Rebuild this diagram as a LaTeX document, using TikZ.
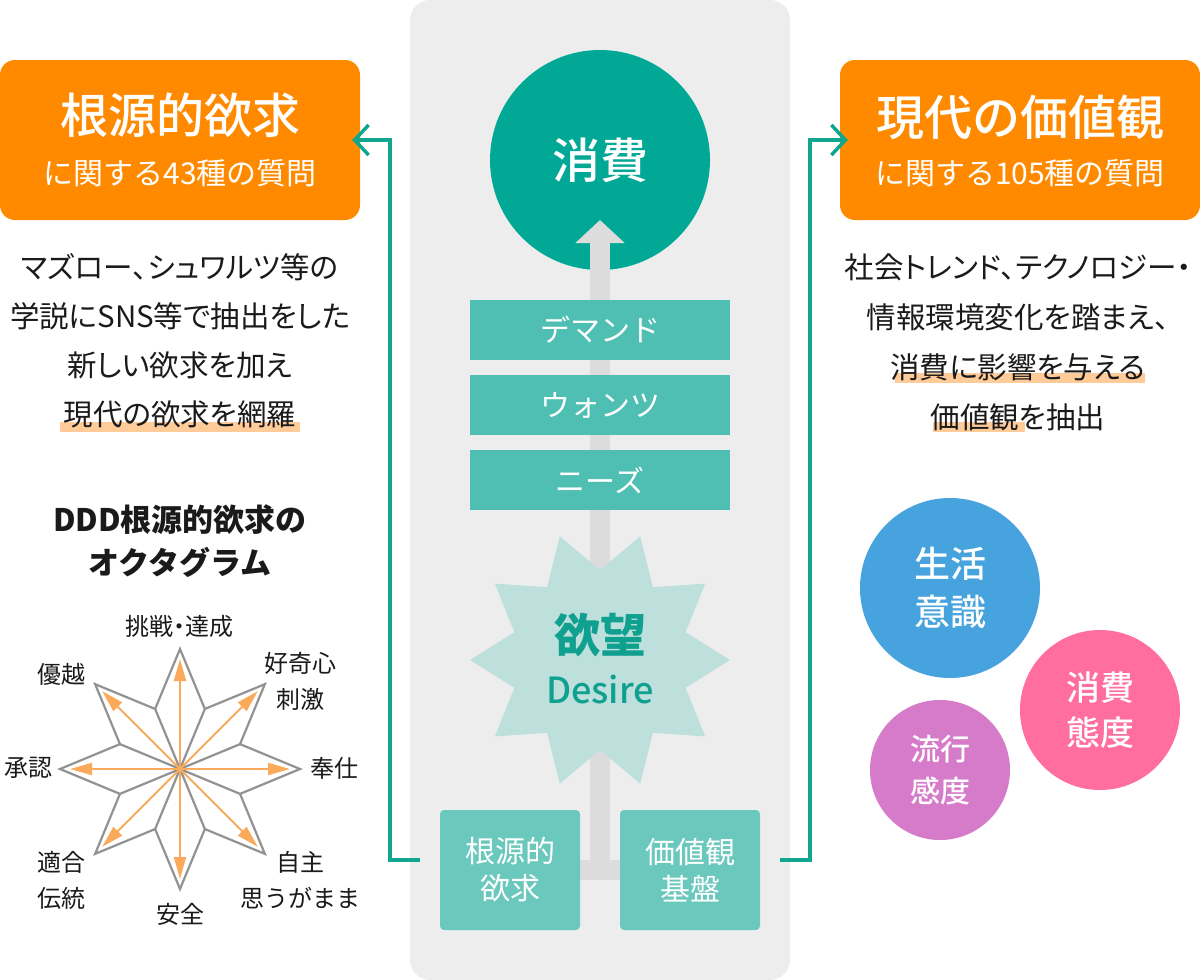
\documentclass[tikz,border=0pt]{standalone}
\usepackage{fontspec}
\setmainfont{Noto Sans CJK JP}
\newfontfamily\jpp{Noto Sans CJK JP}[RawFeature=+palt]
\newfontfamily\jpm{Noto Sans CJK JP Medium}
\usetikzlibrary{arrows.meta,calc}
\definecolor{panelc}{HTML}{EDEDED}
\definecolor{barc}{HTML}{DCDCDC}
\definecolor{tealc}{HTML}{02A896}
\definecolor{rectc}{HTML}{50BFB3}
\definecolor{basec}{HTML}{6BC8BD}
\definecolor{starc}{HTML}{BDE0DC}
\definecolor{startxt}{HTML}{0FA08F}
\definecolor{connc}{HTML}{10A690}
\definecolor{orangec}{HTML}{FF8A00}
\definecolor{hlc}{HTML}{FFCB98}
\definecolor{octc}{HTML}{929292}
\definecolor{oarrc}{HTML}{FBAA5C}
\definecolor{bluec}{HTML}{46A3DE}
\definecolor{pinkc}{HTML}{FF6E9E}
\definecolor{purpc}{HTML}{D67BC9}
\definecolor{txtc}{HTML}{1A1A1A}
\newcommand\fz[2]{\fontsize{#1}{#2}\selectfont}
\begin{document}
\begin{tikzpicture}[x=1pt,y=-1pt,
  lbl/.style={inner sep=0pt, text=txtc},
  obox/.style={rectangle, rounded corners=15pt, fill=orangec, minimum width=360pt, minimum height=160pt, inner sep=0pt},
  otitle/.style={inner sep=0pt, text=white, font=\jpm\fz{48pt}{56pt}},
  osub/.style={inner sep=0pt, text=white, font=\fz{30pt}{36pt}},
  dbox/.style={rectangle, fill=rectc, minimum width=260pt, minimum height=60pt, inner sep=0pt, text=white, font=\fz{30pt}{36pt}},
  bbox/.style={rectangle, rounded corners=4pt, fill=basec, minimum width=140pt, minimum height=120pt, inner sep=0pt, text=white, align=center, font=\fz{30pt}{37pt}},
  conn/.style={draw=connc, line width=3.5pt, -{Straight Barb[length=14pt,width=30pt]}},
  octlbl/.style={inner sep=0pt, text=txtc, font=\fz{24pt}{36pt}, align=center},
  oarr/.style={draw=oarrc, line width=2pt, -{Triangle[length=22pt,width=12pt]}},
  bub/.style={circle, inner sep=0pt, text=white, align=center},
  hl/.style={fill=hlc},
]
\useasboundingbox (0,0) rectangle (1200,980);
% central panel
\fill[panelc, rounded corners=20pt] (410,0) rectangle (790,980);
% consumption circle
\node[bub, fill=tealc, minimum size=220pt, font=\jpm\fz{48pt}{56pt}] (cons) at (600,160) {消費};
% grey bar
\coordinate (bartop) at (600,220);
\coordinate (barbot) at (600,880);
\coordinate (hbl) at (580,870);
\coordinate (hbr) at (620,870);
\draw[barc, line width=20pt, -{Triangle[length=23pt,width=48pt]}] (barbot) -- (bartop);
\draw[barc, line width=20pt] (hbl) -- (hbr);
% stacked boxes
\node[dbox] (dem) at (600,330) {デマンド};
\node[dbox] (wan) at (600,405) {ウォンツ};
\node[dbox] (nee) at (600,480) {ニーズ};
% desire star
\fill[starc, shift={(600,660)}] (0:130) \foreach \i in {1,...,19}{ -- ({\i*18}:{90+40*mod(\i+1,2)}) } -- cycle;
\node[lbl, text=startxt, font=\bfseries\fz{46pt}{50pt}] (des) at (600,635) {欲望};
\node[lbl, text=startxt, font=\jpm\fz{36pt}{40pt}] (desen) at (600,690) {Desire};
% base boxes
\node[bbox] (lb) at (510,870) {根源的\\欲求};
\node[bbox] (rb) at (690,870) {価値観\\基盤};
% orange boxes
\node[obox] (ob1) at (180,140) {};
\node[otitle] at (180,115) {根源的欲求};
\node[osub] at (180,173) {に関する43種の質問};
\node[obox] (ob2) at (1020,140) {};
\node[otitle] at (1020,117) {現代の価値観};
\node[osub] at (1020,173) {に関する105種の質問};
% connectors
\coordinate (lfree) at (420,860);
\coordinate (rfree) at (780,860);
\draw[conn, shorten >=-8pt] (lfree) -- (390,860) |- (ob1.east);
\draw[conn, shorten >=-8pt] (rfree) -- (810,860) |- (ob2.west);
% highlights
\fill[hl] (60,422) rectangle (300,432);
\fill[hl] (895,373) rectangle (1145,383);
\fill[hl] (933,422) rectangle (1025,432);
% body texts
\node[lbl, align=center, font=\jpp\fz{29.5pt}{49pt}] (ltx) at (180,341) {マズロー、シュワルツ等の\\学説にSNS等で抽出をした\\新しい欲求を加え\\現代の欲求を網羅};
\node[lbl, align=center, font=\jpp\fz{29.5pt}{50pt}] (rtx) at (1018,342) {社会トレンド、テクノロジー・\\情報環境変化を踏まえ、\\消費に影響を与える\\価値観を抽出};
% octagram
\node[lbl, align=center, font=\bfseries\fz{31pt}{43pt}] (octt) at (180,541) {DDD根源的欲求の\\オクタグラム};
\coordinate (oc) at (180,769);
\draw[octc, line width=2.2pt, shift={(180,769)}] (90:120) \foreach \i in {1,...,15}{ -- ({90+\i*22.5}:{65+55*mod(\i+1,2)}) } -- cycle;
\foreach \a in {22.5,67.5,...,337.5}{
  \draw[octc, line width=2.2pt] (oc) -- ($(oc)+(\a:65)$);
}
\foreach \a in {0,45,...,315}{
  \draw[oarr] (oc) -- ($(oc)+(\a:110)$);
}
\node[octlbl, font=\jpp\fz{24pt}{36pt}] (o1) at (179,626) {挑戦・達成};
\node[octlbl] (o2) at (300,681) {好奇心\\刺激};
\node[octlbl] (o3) at (334,768) {奉仕};
\node[octlbl] (o4) at (300,880) {自主\\思うがまま};
\node[octlbl] (o5) at (180,914) {安全};
\node[octlbl] (o6) at (61,880) {適合\\伝統};
\node[octlbl] (o7) at (29,768) {承認};
\node[octlbl] (o8) at (61,674) {優越};
% bubbles
\node[bub, fill=bluec, minimum size=180pt, font=\jpm\fz{36pt}{48pt}] (life) at (950,588) {生活\\意識};
\node[bub, fill=pinkc, minimum size=160pt, font=\jpm\fz{34pt}{45pt}] (att) at (1100,710) {消費\\態度};
\node[bub, fill=purpc, minimum size=140pt, font=\jpm\fz{30pt}{42pt}] (trend) at (940,770) {流行\\感度};
\end{tikzpicture}
\end{document}
